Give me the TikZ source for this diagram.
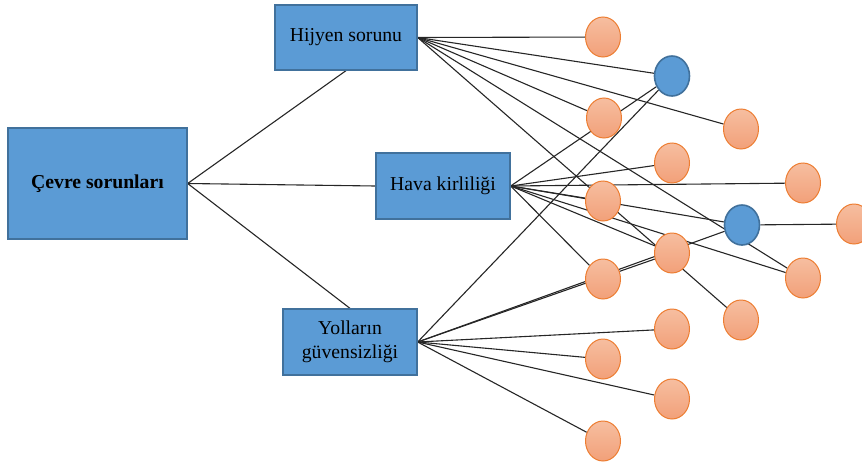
\documentclass[tikz,border=0pt]{standalone}
\usepackage{fontspec}
\setmainfont{Liberation Serif}
\usetikzlibrary{shapes.geometric,backgrounds}
\definecolor{boxblue}{HTML}{5B9BD5}
\definecolor{boxedge}{HTML}{41719C}
\definecolor{orfillA}{HTML}{F6BEA0}
\definecolor{orfillB}{HTML}{F2A079}
\definecolor{oredge}{HTML}{ED7D31}
\begin{document}
\begin{tikzpicture}[x=1pt,y=-1pt,
  box/.style={draw=boxedge, fill=boxblue, line width=1.3pt, inner sep=0pt, align=center,
    font=\fontsize{19.7}{24}\selectfont},
  orb/.style={ellipse, draw=oredge, line width=1pt, top color=orfillA, bottom color=orfillB,
    minimum width=35pt, minimum height=40pt, inner sep=0pt},
  bub/.style={ellipse, draw=boxedge, line width=1.6pt, fill=boxblue,
    minimum width=35pt, minimum height=40pt, inner sep=0pt},
  link/.style={draw=black!85, line width=1.1pt}]
\useasboundingbox (0,0) rectangle (862,466);
% boxes
\node[box, minimum width=179pt, minimum height=111pt] (cevre) at (97.5,183.5) {\textbf{Çevre sorunları}};
\node[box, minimum width=142pt, minimum height=65pt] (hij) at (346,37.5) {Hijyen sorunu};
\node[box, minimum width=134pt, minimum height=66pt] (hava) at (443,186) {Hava kirliliği};
\node[box, minimum width=134pt, minimum height=66pt] (yol) at (350,342) {Yolların\\güvensizliği};
% circles
\node[orb] (c1) at (603,37) {};
\node[bub] (b2) at (672,76) {};
\node[orb] (c3) at (604,118) {};
\node[orb] (c4) at (741,129) {};
\node[orb] (c5) at (672,163) {};
\node[orb] (c6) at (803,183) {};
\node[orb] (c7) at (603,201) {};
\node[bub] (b8) at (742,225) {};
\node[orb] (c9) at (854,224) {};
\node[orb] (c10) at (672,253) {};
\node[orb] (c11) at (603,279) {};
\node[orb] (c12) at (803,278) {};
\node[orb] (c13) at (741,320) {};
\node[orb] (c14) at (672,329) {};
\node[orb] (c15) at (603,359) {};
\node[orb] (c16) at (672,399) {};
\node[orb] (c17) at (603,441) {};
% connectors
\begin{pgfonlayer}{background}
\draw[link] (cevre.east) -- (hij.south);
\draw[link] (cevre.east) -- (hava.west);
\draw[link] (cevre.east) -- (yol.north);
\foreach \t in {c1,b2,c3,c4,c12,c13} \draw[link] (hij.east) -- (\t);
\foreach \t in {b2,c5,c6,c7,b8,c10,c11,c12} \draw[link] (hava.east) -- (\t);
\foreach \t in {b2,c10,b8,c14,c15,c16,c17} \draw[link] (yol.east) -- (\t);
\draw[link] (b8) -- (c9);
\end{pgfonlayer}
\end{tikzpicture}
\end{document}
